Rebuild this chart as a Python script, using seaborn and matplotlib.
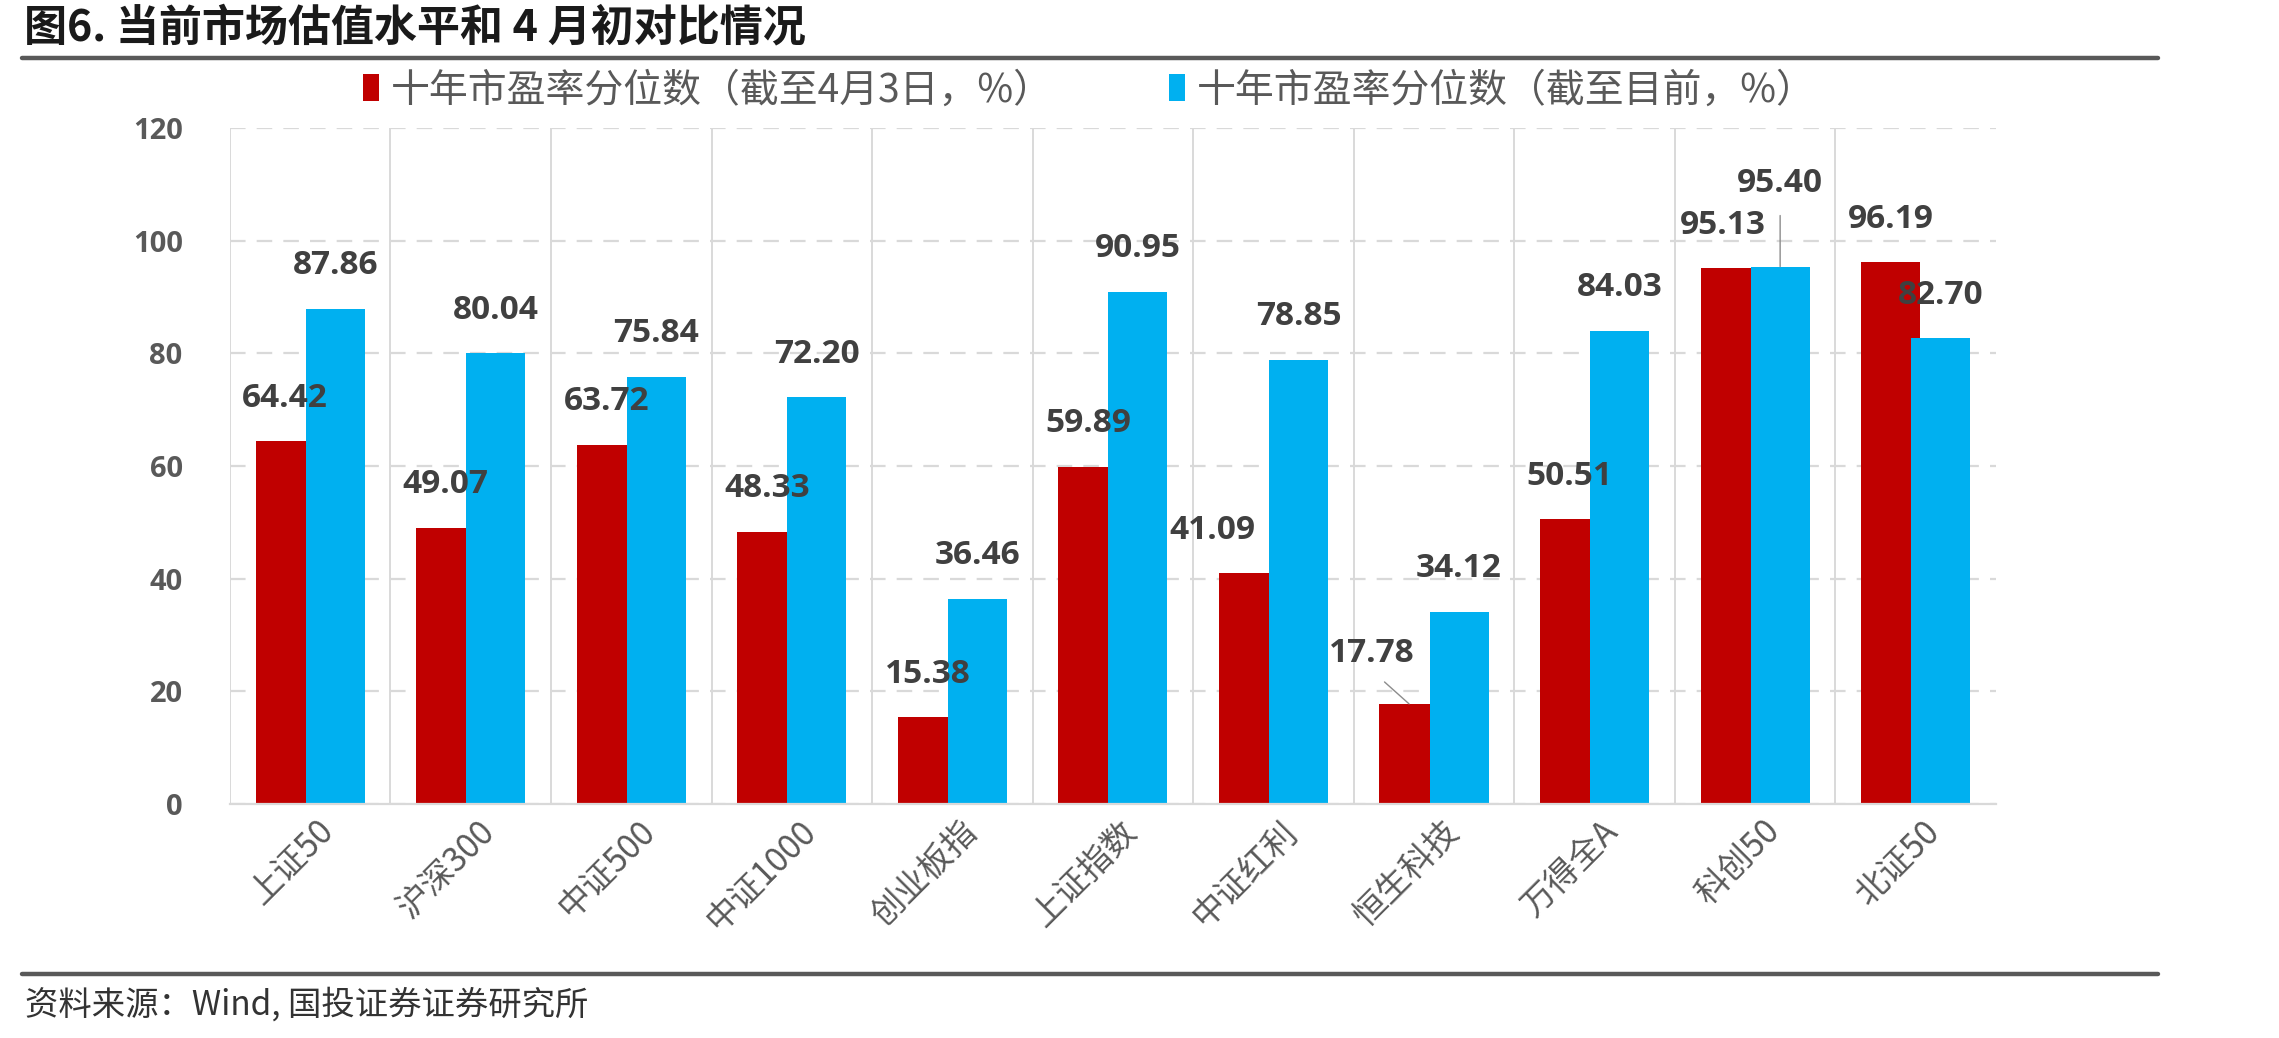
import numpy as np
import pandas as pd
import matplotlib
matplotlib.use('Agg')
import matplotlib.pyplot as plt
import matplotlib.transforms as mtransforms
from matplotlib.lines import Line2D
from matplotlib.ticker import FixedLocator
import seaborn as sns

sns.set_style("white")
plt.rcParams['font.family'] = ['Noto Sans CJK SC', 'DejaVu Sans']
plt.rcParams['axes.unicode_minus'] = False

# ### データ
categories = ['上证50', '沪深300', '中证500', '中证1000', '创业板指', '上证指数',
              '中证红利', '恒生科技', '万得全A', '科创50', '北证50']
pe_apr3 = [64.42, 49.07, 63.72, 48.33, 15.38, 59.89, 41.09, 17.78, 50.51, 95.13, 96.19]
pe_now = [87.86, 80.04, 75.84, 72.20, 36.46, 90.95, 78.85, 34.12, 84.03, 95.40, 82.70]
series_names = ['十年市盈率分位数（截至4月3日，%）', '十年市盈率分位数（截至目前，%）']
y_ticks = [0, 20, 40, 60, 80, 100, 120]

title = '图6. 当前市场估值水平和 4 月初对比情况'
source = '资料来源：Wind, 国投证券证券研究所'

colors = {series_names[0]: '#C00000', series_names[1]: '#00B0F0'}

df = pd.DataFrame({
    '指数': categories * 2,
    '系列': [series_names[0]] * len(categories) + [series_names[1]] * len(categories),
    '值': pe_apr3 + pe_now,
})

# ### 描画
fig = plt.figure(figsize=(22.79, 10.38), dpi=100)
ax = fig.add_axes([0.1009, 0.2254, 0.7749, 0.6513])

sns.barplot(data=df, x='指数', y='值', hue='系列', palette=colors,
            width=0.623, gap=0, saturation=1, linewidth=0, ax=ax, legend=True)

# 棒を少し重ねる (Excel風)
bw = 0.368
for p in ax.patches:
    cx = p.get_x() + p.get_width() / 2
    p.set_width(bw)
    p.set_x(cx - bw / 2)

ax.set_xlim(-0.5, len(categories) - 0.5)
ax.set_ylim(0, 120)
ax.set_yticks(y_ticks)
ax.set_xlabel('')
ax.set_ylabel('')

# グリッド
ax.set_axisbelow(True)
ax.yaxis.grid(True, color='#D9D9D9', linewidth=1.6, linestyle=(0, (7, 5)))
ax.xaxis.set_minor_locator(FixedLocator(np.arange(-0.5, len(categories) - 1, 1.0)))
ax.xaxis.grid(True, which='minor', color='#D9D9D9', linewidth=1.4)
ax.xaxis.grid(False, which='major')
for s in ['top', 'right', 'left']:
    ax.spines[s].set_visible(False)
ax.spines['bottom'].set_color('#D9D9D9')
ax.spines['bottom'].set_linewidth(1.6)

ax.tick_params(axis='both', which='both', length=0)
ax.tick_params(axis='y', pad=34)
ax.tick_params(axis='x', pad=16)
for lab in ax.get_yticklabels():
    lab.set_family('Open Sans')
    lab.set_fontweight('bold')
    lab.set_fontsize(21)
    lab.set_color('#595959')
shift = mtransforms.ScaledTranslation(0.19, 0, fig.dpi_scale_trans)
for lab in ax.get_xticklabels():
    lab.set_rotation(45)
    lab.set_ha('right')
    lab.set_va('center')
    lab.set_rotation_mode('anchor')
    lab.set_fontsize(24)
    lab.set_color('#595959')
    lab.set_transform(lab.get_transform() + shift)

# データラベル
special = {
    (0, 6): (-26, 30, False),
    (0, 7): (-27, 36, True),
    (0, 9): (-5, 31, False),
    (1, 9): (0, 60, True),
}
for si, cont in enumerate(ax.containers):
    for ci, p in enumerate(cont.patches):
        h = p.get_height()
        cx = p.get_x() + p.get_width() / 2
        dx, dy, leader = special.get((si, ci), (0, 31, False))
        kw = {}
        if leader:
            kw['arrowprops'] = dict(arrowstyle='-', color='#8C8C8C', lw=1.0,
                                    relpos=(0.5, 0), shrinkA=9, shrinkB=0)
        ax.annotate(f'{h:.2f}', xy=(cx, h), xytext=(dx, dy), textcoords='offset points',
                    ha='center', va='center', fontsize=24, fontweight='bold',
                    family='Open Sans', color='#404040', **kw)

# 凡例
handles, labels = ax.get_legend_handles_labels()
ax.get_legend().remove()
fig.legend(handles, labels, loc='center', bbox_to_anchor=(0.478, 0.913), ncol=2,
           frameon=False, fontsize=28, labelcolor='#595959',
           handlelength=0.4, handleheight=0.7, handletextpad=0.3, columnspacing=3.0)

# タイトルと罫線
fig.text(0.0105, 0.974, title, fontsize=31, fontweight='bold', color='#1A1A1A',
         ha='left', va='center')
fig.add_artist(Line2D([0.0097, 0.947], [0.944, 0.944], color='#595959', lw=3.2))
fig.add_artist(Line2D([0.0097, 0.947], [0.062, 0.062], color='#595959', lw=3.2))
fig.text(0.011, 0.032, source, fontsize=24, color='#333333', style='italic',
         ha='left', va='center')

fig.savefig('out.png', dpi=100)
